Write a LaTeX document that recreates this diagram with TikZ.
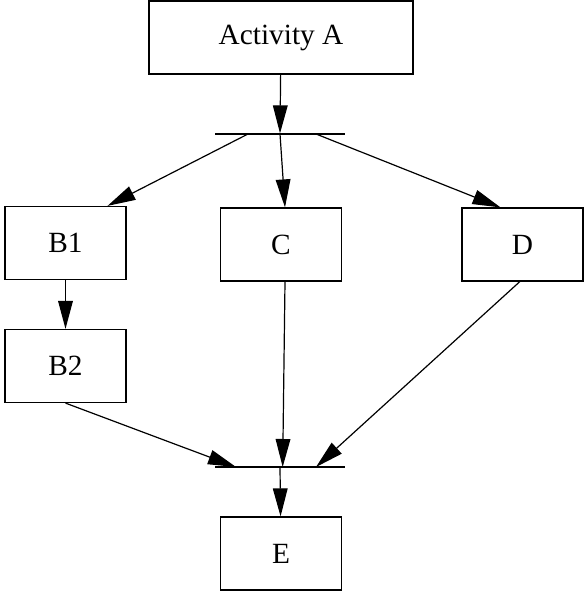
\documentclass[tikz,border=0pt]{standalone}
\usepackage{fontspec}
\setmainfont{Liberation Serif}
\usetikzlibrary{arrows.meta}
\begin{document}
\begin{tikzpicture}[x=0.75pt, y=-0.75pt, line width=0.9pt,
        main/.style = {draw, minimum width=90.75pt, minimum height=54.75pt, inner sep=0pt, font=\fontsize{22}{26}\selectfont},
        bar/.style = {draw=none, minimum width=96pt, minimum height=0pt, inner sep=0pt},
        flow/.style = {-{Triangle[length=21pt,width=11pt]}}]
        \useasboundingbox (0,0) rectangle (584,592);
        \node[main, minimum width=198pt] (a) at (281,37.5) {Activity A};
        \node[bar] (fork) at (280,134) {};
        \node[main] (b1) at (65.5,243) {B1};
        \node[main] (c) at (281,244.5) {C};
        \node[main] (d) at (522.5,244.5) {D};
        \node[main] (b2) at (65.5,366) {B2};
        \node[bar] (join) at (280,467) {};
        \node[main] (e) at (281,553.5) {E};

        \draw (fork.west) -- (fork.east);
        \draw (join.west) -- (join.east);

        \draw[flow] (a) to (fork);
        \draw[flow] ([xshift=-24pt]fork.center) to ([xshift=31.5pt]b1.north);
        \draw[flow] (fork.center) to ([xshift=3pt]c.north);
        \draw[flow] ([xshift=27pt]fork.center) to ([xshift=-16.5pt]d.north);
        \draw[flow] (b1) to (b2);
        \draw[flow] (b2.south) to ([xshift=-33pt]join.center);
        \draw[flow] ([xshift=3pt]c.south) to ([xshift=2pt]join.center);
        \draw[flow] ([xshift=-2pt]d.south) to ([xshift=27pt]join.center);
        \draw[flow] (join) to (e);
    \end{tikzpicture}
\end{document}
